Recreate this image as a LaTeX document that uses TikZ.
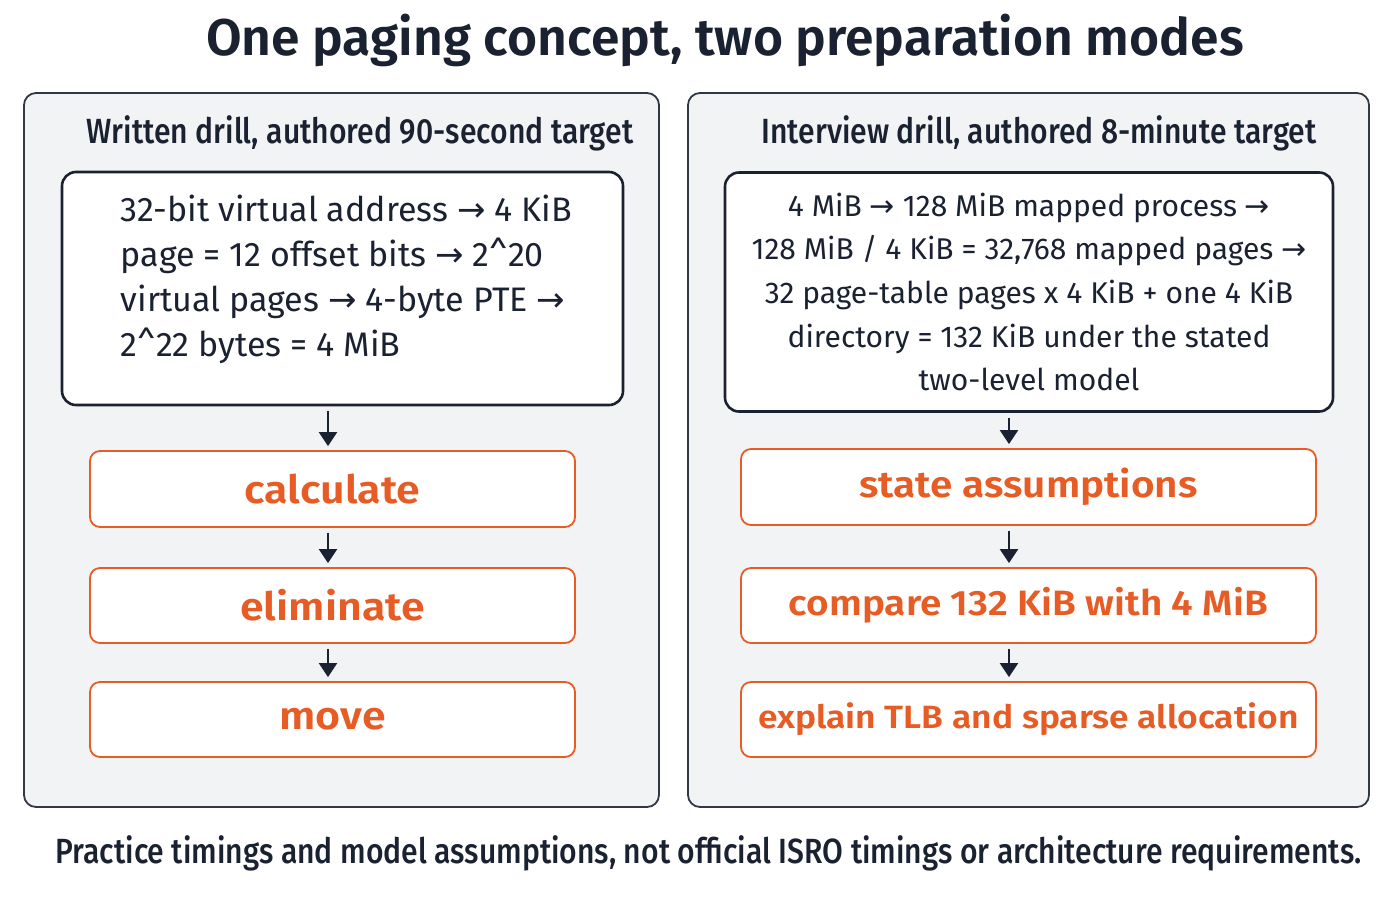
\documentclass[tikz,border=0pt]{standalone}
\usepackage{fontspec}
\setmainfont{Fira Sans}
\newfontfamily\condfont{Fira Sans Medium}[FakeStretch=0.86]
\newfontfamily\titlefont{Fira Sans SemiBold}
\newfontfamily\stepfont{Fira Sans SemiBold}[FakeStretch=1.1]
\newfontfamily\arrowfont{DejaVu Sans}
\usetikzlibrary{arrows.meta,positioning}

\definecolor{ink}{HTML}{1A2130}
\definecolor{accent}{HTML}{E65C24}
\definecolor{panelgray}{HTML}{F2F3F5}
\newcommand{\goesto}{{\arrowfont\char"2192}}

\tikzset{
  panel/.style={draw=ink!90, fill=panelgray, rounded corners=6pt, line width=0.9pt},
  infobox/.style={draw=ink, fill=white, rounded corners=7pt, line width=1.3pt, text=ink},
  stepbox/.style={draw=accent, fill=white, rounded corners=5pt, line width=0.9pt,
    text=accent, font=\stepfont\fontsize{19.5}{23}\selectfont},
  headtext/.style={text=ink, font=\condfont\fontsize{17.5}{21}\selectfont},
  flow/.style={-{Triangle[length=7pt,width=9pt]}, ink, line width=1.2pt,
    shorten <=2.5pt, shorten >=2pt}
}

\begin{document}
\begin{tikzpicture}[x=0.5pt,y=-0.5pt]
\useasboundingbox[fill=white] (0,0) rectangle (1400,900);

\node[text=ink, font=\titlefont\fontsize{25.8}{30}\selectfont] (title) at (725,40)
  {One paging concept, two preparation modes};

% left panel: written drill
\node[panel, minimum width=317.5pt, minimum height=357pt] (lpanel) at (341.5,450) {};
\node[headtext] (lhead) at (360,133) {Written drill, authored 90-second target};
\node[infobox, minimum width=280.5pt, minimum height=116.5pt, align=left,
  font=\fontsize{17}{22.5}\selectfont] (linfo) at (342.5,288.5)
  {\hspace*{4pt}32-bit virtual address \goesto{} 4 KiB\\
   \hspace*{4pt}page = 12 offset bits \goesto{} 2\textasciicircum 20\\
   \hspace*{4pt}virtual pages \goesto{} 4-byte PTE \goesto\\
   \hspace*{4pt}2\textasciicircum 22 bytes = 4 MiB\\[-9.5pt]};
\node[stepbox, minimum width=242.5pt, minimum height=38pt] (lcalc) at (332.5,489) {calculate};
\node[stepbox, minimum width=242.5pt, minimum height=37.5pt] (lelim) at (332.5,605.5) {eliminate};
\node[stepbox, minimum width=242.5pt, minimum height=37.5pt] (lmove) at (332.5,719.5) {move};

\coordinate (lx) at (328,0);
\draw[flow] (linfo.south -| lx) -- (lcalc.north -| lx);
\draw[flow] (lcalc.south -| lx) -- (lelim.north -| lx);
\draw[flow] (lelim.south -| lx) -- (lmove.north -| lx);

% right panel: interview drill
\node[panel, minimum width=340.5pt, minimum height=357pt] (rpanel) at (1028.5,450) {};
\node[headtext] (rhead) at (1039,133) {Interview drill, authored 8-minute target};
\node[infobox, minimum width=304pt, minimum height=119.5pt, align=center,
  font=\fontsize{15}{21.8}\selectfont] (rinfo) at (1029,292)
  {4 MiB \goesto{} 128 MiB mapped process \goesto\\
   128 MiB / 4 KiB = 32,768 mapped pages \goesto\\
   32 page-table pages x 4 KiB + one 4 KiB\\
   directory = 132 KiB under the stated\\
   two-level model};
\node[stepbox, minimum width=287.5pt, minimum height=38pt,
  font=\stepfont\fontsize{18.4}{22}\selectfont] (rstate) at (1028.5,487) {state assumptions};
\node[stepbox, minimum width=287.5pt, minimum height=37.5pt,
  font=\stepfont\fontsize{17.6}{22}\selectfont] (rcomp) at (1028.5,605.5) {compare 132 KiB with 4 MiB};
\node[stepbox, minimum width=287.5pt, minimum height=37.5pt,
  font=\stepfont\fontsize{16.1}{20}\selectfont] (rexpl) at (1028.5,719.5) {explain TLB and sparse allocation};

\coordinate (rx) at (1009,0);
\draw[flow] (rinfo.south -| rx) -- (rstate.north -| rx);
\draw[flow] (rstate.south -| rx) -- (rcomp.north -| rx);
\draw[flow] (rcomp.south -| rx) -- (rexpl.north -| rx);

\node[headtext] (note) at (708.5,853)
  {Practice timings and model assumptions, not official ISRO timings or architecture requirements.};
\end{tikzpicture}
\end{document}
